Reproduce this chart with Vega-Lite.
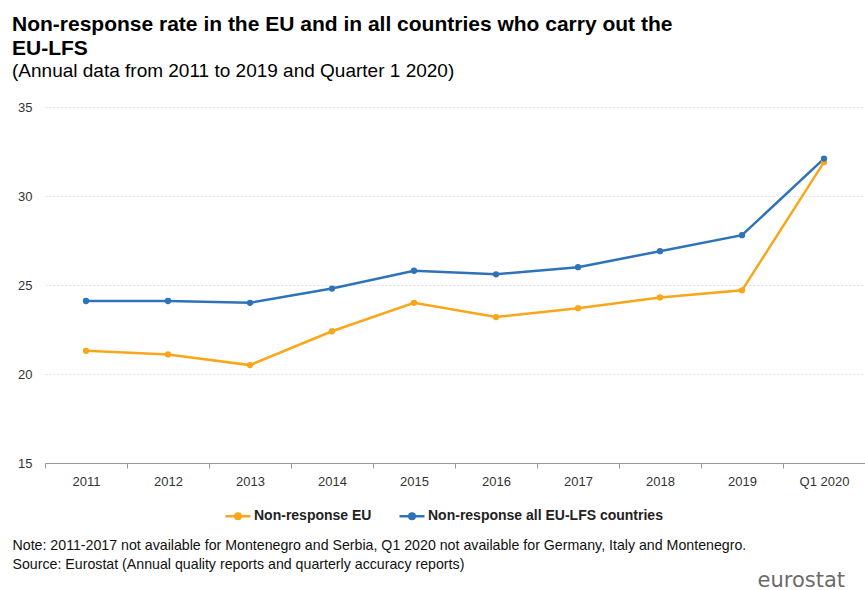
{
  "$schema": "https://vega.github.io/schema/vega-lite/v6.json",
  "width": 820,
  "height": 356,
  "autosize": {"type": "none"},
  "padding": {"left": 45, "top": 107, "right": 0, "bottom": 127},
  "background": "white",
  "title": {
    "text": ["Non-response rate in the EU and in all countries who carry out the", "EU-LFS"],
    "subtitle": "(Annual data from 2011 to 2019 and Quarter 1 2020)",
    "anchor": "start",
    "frame": "group",
    "dx": -33,
    "offset": 20,
    "font": "Liberation Sans",
    "fontSize": 21,
    "fontWeight": "bold",
    "color": "#000000",
    "lineHeight": 24,
    "subtitleFont": "Liberation Sans",
    "subtitleFontSize": 19,
    "subtitleColor": "#000000",
    "subtitlePadding": 3
  },
  "data": {
    "values": [
      {"period": "2011", "series": "Non-response EU", "value": 21.3},
      {"period": "2012", "series": "Non-response EU", "value": 21.1},
      {"period": "2013", "series": "Non-response EU", "value": 20.5},
      {"period": "2014", "series": "Non-response EU", "value": 22.4},
      {"period": "2015", "series": "Non-response EU", "value": 24.0},
      {"period": "2016", "series": "Non-response EU", "value": 23.2},
      {"period": "2017", "series": "Non-response EU", "value": 23.7},
      {"period": "2018", "series": "Non-response EU", "value": 24.3},
      {"period": "2019", "series": "Non-response EU", "value": 24.7},
      {"period": "Q1 2020", "series": "Non-response EU", "value": 31.9},
      {"period": "2011", "series": "Non-response all EU-LFS countries", "value": 24.1},
      {"period": "2012", "series": "Non-response all EU-LFS countries", "value": 24.1},
      {"period": "2013", "series": "Non-response all EU-LFS countries", "value": 24.0},
      {"period": "2014", "series": "Non-response all EU-LFS countries", "value": 24.8},
      {"period": "2015", "series": "Non-response all EU-LFS countries", "value": 25.8},
      {"period": "2016", "series": "Non-response all EU-LFS countries", "value": 25.6},
      {"period": "2017", "series": "Non-response all EU-LFS countries", "value": 26.0},
      {"period": "2018", "series": "Non-response all EU-LFS countries", "value": 26.9},
      {"period": "2019", "series": "Non-response all EU-LFS countries", "value": 27.8},
      {"period": "Q1 2020", "series": "Non-response all EU-LFS countries", "value": 32.1}
    ]
  },
  "encoding": {
    "x": {
      "field": "period",
      "type": "nominal",
      "sort": null,
      "scale": {"type": "band", "paddingInner": 0, "paddingOuter": 0},
      "axis": {
        "title": ["Note: 2011-2017  not available for Montenegro and Serbia, Q1 2020 not available for Germany, Italy and Montenegro.", "Source: Eurostat (Annual quality reports and quarterly accuracy reports)"],
        "titleFont": "Liberation Sans",
        "titleFontSize": 14.2,
        "titleFontWeight": "normal",
        "titleColor": "#111111",
        "titleAlign": "left",
        "titleAnchor": "start",
        "titleBaseline": "top",
        "titleX": -33,
        "titleY": 75,
        "titleLineHeight": 19,
        "titleLimit": 0,
        "labelAngle": 0,
        "labelFont": "Liberation Sans",
        "labelFontSize": 13,
        "labelColor": "#333333",
        "labelPadding": 7,
        "tickSize": 5,
        "tickColor": "#999999",
        "domainColor": "#999999",
        "tickBand": "extent",
        "grid": false
      }
    },
    "y": {
      "field": "value",
      "type": "quantitative",
      "scale": {"domain": [15, 35], "nice": false, "zero": false},
      "axis": {
        "values": [15, 20, 25, 30, 35],
        "grid": true,
        "gridColor": "#dddddd",
        "gridDash": [2, 2],
        "domain": false,
        "ticks": false,
        "labelPadding": 13,
        "labelFont": "Liberation Sans",
        "labelFontSize": 13,
        "labelColor": "#333333",
        "title": "eurostat",
        "titleAngle": 0,
        "titleX": 712,
        "titleY": 479,
        "titleAlign": "left",
        "titleBaseline": "alphabetic",
        "titleFont": "DejaVu Sans",
        "titleFontSize": 21,
        "titleFontWeight": "normal",
        "titleColor": "#6b6b6b"
      }
    },
    "color": {
      "field": "series",
      "type": "nominal",
      "scale": {
        "domain": ["Non-response EU", "Non-response all EU-LFS countries"],
        "range": ["#FAA61A", "#2E73B8"]
      },
      "legend": {
        "title": null,
        "orient": "none",
        "direction": "horizontal",
        "legendX": 179,
        "legendY": 395,
        "labelFont": "Liberation Sans",
        "labelFontSize": 14,
        "labelFontWeight": "bold",
        "labelColor": "#222222",
        "labelLimit": 0,
        "labelOffset": 2,
        "columnPadding": 22,
        "symbolType": "M-1,0L1,0M-0.22,0A0.22,0.22,0,1,1,0.22,0A0.22,0.22,0,1,1,-0.22,0Z",
        "symbolSize": 625,
        "symbolStrokeWidth": 2.5
      }
    }
  },
  "layer": [
    {"mark": {"type": "line", "strokeWidth": 2.5}},
    {"mark": {"type": "point", "filled": true, "size": 40, "opacity": 1}}
  ],
  "config": {"view": {"stroke": null}}
}
